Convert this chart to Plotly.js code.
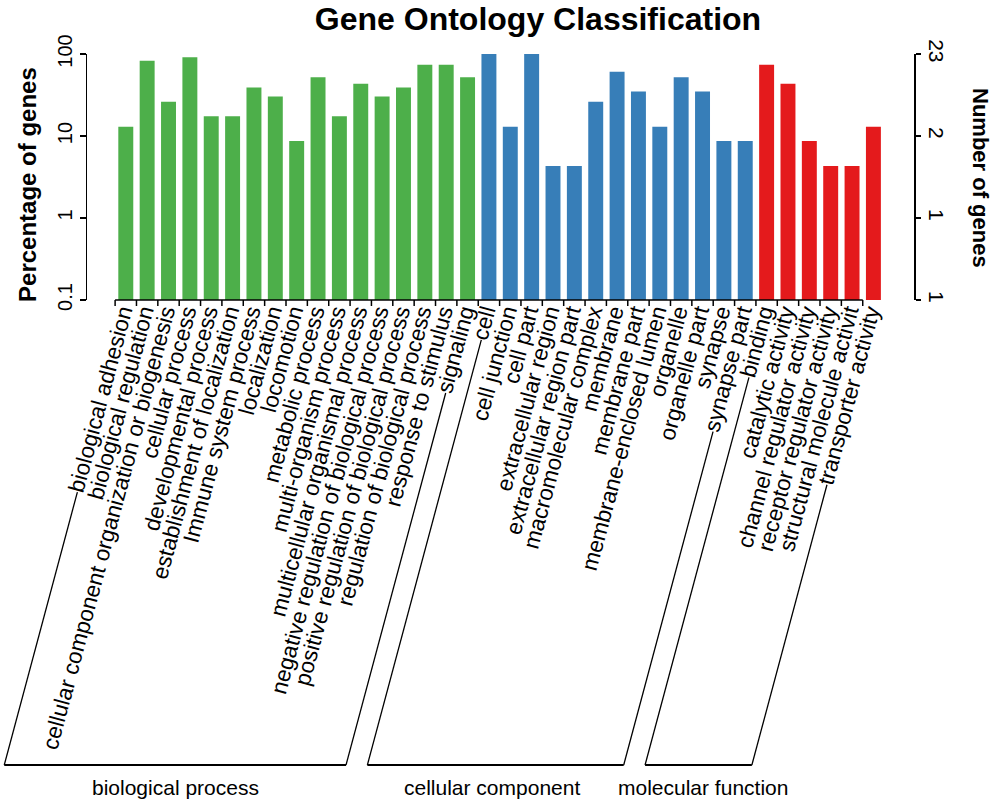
<!DOCTYPE html>
<html><head><meta charset="utf-8">
<script src="https://cdn.plot.ly/plotly-3.0.1.min.js"></script>
<style>html,body{margin:0;padding:0;background:#fff}#chart{width:1000px;height:808px}</style>
</head><body><div id="chart"></div>
<script>
// ---- data (percentage of genes; 100% = 23 genes) ----
const bioTerms = ["biological adhesion","biological regulation","cellular component organization or biogenesis","cellular process","developmental process","establishment of localization","Immune system process","localization","locomotion","metabolic process","multi-organism process","multicellular organismal process","negative regulation of biological process","positive regulation of biological process","regulation of biological process","response to stimulus","signaling"];
const bioPct = [13.0, 82.6, 26.1, 91.3, 17.4, 17.4, 39.1, 30.4, 8.7, 52.2, 17.4, 43.5, 30.4, 39.1, 73.9, 73.9, 52.2];

const ccTerms = ["cell","cell junction","cell part","extracellular region","extracellular region part","macromolecular complex","membrane","membrane part","membrane-enclosed lumen","organelle","organelle part","synapse","synapse part"];
const ccPct = [100, 13.0, 100, 4.3, 4.3, 26.1, 60.9, 34.8, 13.0, 52.2, 34.8, 8.7, 8.7];

const mfTerms = ["binding","catalytic activity","channel regulator activity","receptor regulator activity","structural molecule activit","transporter activity"];
const mfPct = [73.9, 43.5, 8.7, 4.3, 4.3, 13.0];

const groupNames = ["biological process","cellular component","molecular function"];
const leftTickVals = [0.1, 1, 10, 100];
const leftTickText = ["0.1","1","10","100"];
const rightTickText = ["1","1","2","23"];

const groupColors = ["#4DAF4A","#377EB8","#E41A1C"];
const FONT = "Liberation Sans, Arial, Helvetica, sans-serif";
const XFS = 22.5;
const ANG = 75;

const groups = [[bioTerms, bioPct], [ccTerms, ccPct], [mfTerms, mfPct]];
const allTerms = [].concat(bioTerms, ccTerms, mfTerms);
const allPct = [].concat(bioPct, ccPct, mfPct);

const data = groups.map((g, k) => ({
  type: 'bar', x: g[0], y: g[1], name: groupNames[k],
  marker: {color: groupColors[k], line: {width: 0}},
  hoverinfo: 'x+y'
}));
// invisible companion trace so the right-hand axis (number of genes) is drawn
data.push({type: 'scatter', mode: 'markers', x: allTerms, y: allPct, yaxis: 'y2',
           marker: {opacity: 0}, hoverinfo: 'skip', showlegend: false});

// axis line + ticks below the bars (one tick on the left of each bar)
const baseShapes = [{
  type: 'line', xref: 'x', yref: 'paper', x0: -0.5, x1: allTerms.length - 1.5,
  y0: 0, y1: 0, ysizemode: 'pixel', yanchor: 0, line: {color: '#000', width: 1.5}
}];
allTerms.forEach((t, i) => baseShapes.push({
  type: 'line', xref: 'x', yref: 'paper', x0: i - 0.5, x1: i - 0.5,
  ysizemode: 'pixel', yanchor: 0, y0: 0, y1: -6, line: {color: '#000', width: 1.5}
}));

let gStart = 0;
const groupIdx = groups.map(g => { const r = [gStart, gStart + g[0].length - 1]; gStart += g[0].length; return r; });

const layout = {
  width: 1000, height: 808,
  margin: {l: 87, r: 86, t: 54, b: 508, pad: 0},
  paper_bgcolor: '#fff', plot_bgcolor: '#fff',
  showlegend: false, bargap: 0.3,
  font: {family: FONT, color: '#000'},
  title: {text: '<b>Gene Ontology Classification</b>', font: {size: 32, family: FONT, color: '#000'},
          x: 0.538, xanchor: 'center', xref: 'container', y: 0.977, yanchor: 'middle', yref: 'container'},
  xaxis: {type: 'category', categoryorder: 'array', categoryarray: allTerms,
          tickmode: 'array', tickvals: allTerms, ticktext: allTerms,
          range: [-1.816, 36.9], showline: false, ticks: '', showgrid: false, zeroline: false,
          anchor: 'free', position: 0.026, ticklabelshift: -4,
          tickangle: -ANG,
          tickfont: {size: XFS, family: FONT, color: '#000'}, automargin: false},
  yaxis: {type: 'log', range: [-1, 2], tickvals: leftTickVals, ticktext: leftTickText,
          showline: true, linecolor: '#000', linewidth: 1.5, ticks: 'outside', ticklen: 6, tickwidth: 1.5,
          tickcolor: '#000', showgrid: false, zeroline: false, tickangle: -90,
          tickfont: {size: 20, family: FONT, color: '#000'}, automargin: false},
  yaxis2: {type: 'log', range: [-1, 2], overlaying: 'y', side: 'right', anchor: 'x',
           tickmode: 'array', tickvals: leftTickVals, ticktext: rightTickText,
           showline: true, linecolor: '#000', linewidth: 1.5, ticks: 'outside', ticklen: 5, tickwidth: 1.5,
           tickcolor: '#000', showgrid: false, zeroline: false, tickangle: 90,
           tickfont: {size: 21, family: FONT, color: '#000'}, automargin: false},
  annotations: [
    {text: '<b>Percentage of genes</b>', xref: 'paper', yref: 'paper', x: -0.0726, y: 0.4715,
     textangle: -90, showarrow: false, font: {size: 24, family: FONT, color: '#000'}, xanchor: 'center', yanchor: 'middle'},
    {text: '<b>Number of genes</b>', xref: 'paper', yref: 'paper', x: 1.0798, y: 0.496,
     textangle: 90, showarrow: false, font: {size: 22, family: FONT, color: '#000'}, xanchor: 'center', yanchor: 'middle'}
  ],
  shapes: baseShapes
};
const groupLabelPx = [175, 492, 703];
groupNames.forEach((n, k) => layout.annotations.push({
  text: n, xref: 'paper', yref: 'paper', x: (groupLabelPx[k] - 87) / 827, y: (300 - 787) / 246,
  showarrow: false, xanchor: 'center', yanchor: 'middle', font: {size: 21, family: FONT, color: '#000'}
}));

const gd = document.getElementById('chart');
Plotly.newPlot(gd, data, layout, {displayModeBar: false, staticPlot: true}).then(() => {
  const s = gd._fullLayout._size;
  const th = ANG * Math.PI / 180, sn = Math.sin(th), cs = Math.cos(th);
  const asc = 0.905 * XFS, desc = 0.212 * XFS, mid = 0.28 * XFS;
  const boxes = {};
  gd.querySelectorAll('.xtick text').forEach(el => { boxes[el.textContent] = el.getBoundingClientRect(); });
  const gbox = gd.getBoundingClientRect();
  const bottomY = 765;
  const px2x = px => (px - s.l) / s.w;
  const py2y = py => 1 - (py - s.t) / s.h;
  const startPt = term => {
    const r = boxes[term];
    if (!r) return null;
    const sx = r.left - gbox.left + sn * (asc - mid);
    const sy = r.bottom - gbox.top - cs * (desc + mid);
    const t = (bottomY - sy) / sn;
    return {sx, sy, bx: sx - cs * t};
  };
  const extra = [];
  groupIdx.forEach(([a, b]) => {
    const p = startPt(allTerms[a]), q = startPt(allTerms[b]);
    if (!p || !q) return;
    const ln = {color: '#000', width: 1.3};
    extra.push({type: 'line', xref: 'paper', yref: 'paper', x0: px2x(p.sx), y0: py2y(p.sy), x1: px2x(p.bx), y1: py2y(bottomY), line: ln});
    extra.push({type: 'line', xref: 'paper', yref: 'paper', x0: px2x(q.sx), y0: py2y(q.sy), x1: px2x(q.bx), y1: py2y(bottomY), line: ln});
    extra.push({type: 'line', xref: 'paper', yref: 'paper', x0: px2x(p.bx), y0: py2y(bottomY), x1: px2x(q.bx), y1: py2y(bottomY), line: {color: '#000', width: 1.8}});
  });
  return Plotly.relayout(gd, {shapes: baseShapes.concat(extra)});
});
</script>
</body></html>
